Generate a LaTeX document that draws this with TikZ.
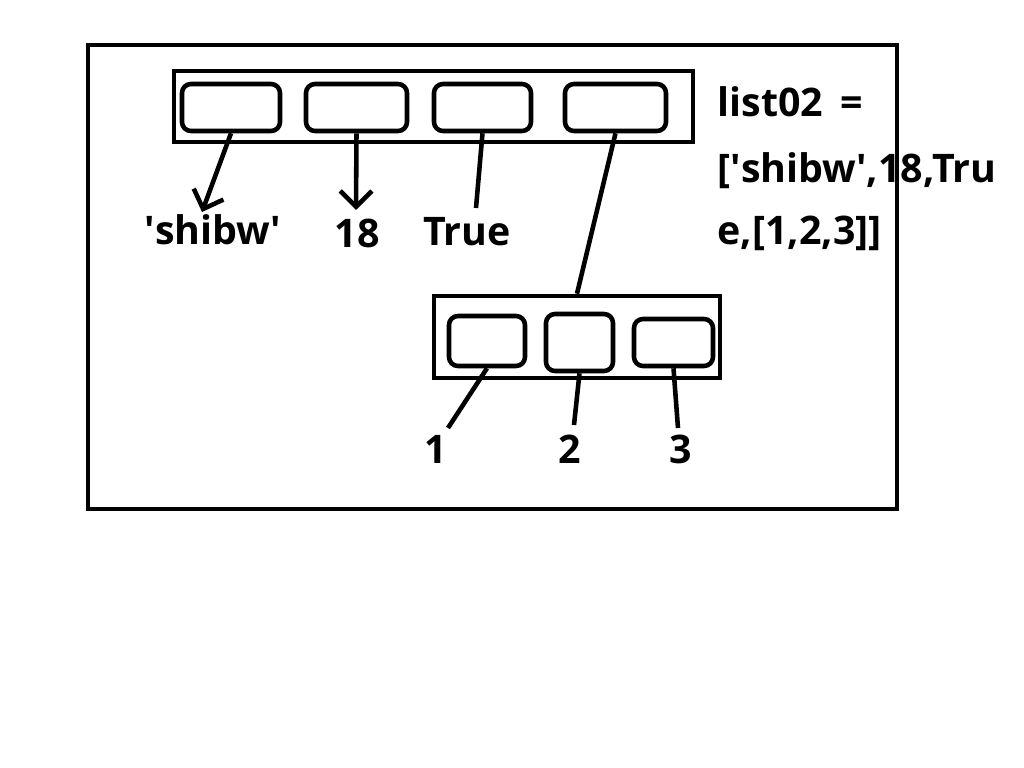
\documentclass[tikz,border=0pt]{standalone}
\usepackage{fontspec}
\setmainfont{Open Sans}
\usetikzlibrary{arrows.meta}
\begin{document}
\begin{tikzpicture}[
    frame/.style={draw, line width=1.3pt, inner sep=0pt},
    cell/.style={draw, rounded corners=0.09cm, line width=1.3pt, inner sep=0pt},
    lbl/.style={font=\fontsize{11.2}{14}\selectfont\bfseries, inner sep=0pt},
    link/.style={line width=1.3pt},
    pointer/.style={link, -{Straight Barb[length=4.5pt,width=9pt]}},
  ]
  \useasboundingbox (0,0) rectangle (10.24,7.68);
  \draw[line width=1.3pt] (0.88,7.23) rectangle (8.97,2.59);
  % outer list
  \node[frame, minimum width=5.19cm, minimum height=0.71cm] (list) at (4.335,6.615) {};
  \node[cell, minimum width=0.98cm, minimum height=0.47cm] (c1) at (2.31,6.605) {};
  \node[cell, minimum width=1.01cm, minimum height=0.47cm] (c2) at (3.565,6.605) {};
  \node[cell, minimum width=0.97cm, minimum height=0.47cm] (c3) at (4.825,6.605) {};
  \node[cell, minimum width=1.01cm, minimum height=0.47cm] (c4) at (6.155,6.605) {};
  % inner list
  \node[frame, minimum width=2.86cm, minimum height=0.82cm] (inner) at (5.77,4.31) {};
  \node[cell, minimum width=0.76cm, minimum height=0.50cm] (b1) at (4.87,4.27) {};
  \node[cell, minimum width=0.67cm, minimum height=0.57cm] (b2) at (5.795,4.255) {};
  \node[cell, minimum width=0.79cm, minimum height=0.47cm] (b3) at (6.735,4.255) {};
  % values
  \node[lbl] (shibw) at (2.13,5.38) {\textquotesingle shibw\textquotesingle};
  \node[lbl] (n18) at (3.57,5.35) {18};
  \node[lbl] (true) at (4.67,5.36) {True};
  \node[lbl] (one) at (4.36,3.19) {1};
  \node[lbl] (two) at (5.70,3.19) {2};
  \node[lbl] (three) at (6.81,3.19) {3};
  \coordinate (t1) at (2.02,5.56);
  \coordinate (t2) at (3.56,5.58);
  \coordinate (t3) at (4.76,5.60);
  \coordinate (e1) at (4.48,3.40);
  \coordinate (e2) at (5.74,3.43);
  \coordinate (e3) at (6.78,3.40);
  % code
  \node[lbl, anchor=base west] (code1) at (7.17,6.51) {list02 \,=};
  \node[lbl, anchor=base west] (code2) at (7.17,5.85) {[\textquotesingle shibw\textquotesingle,18,Tru};
  \node[lbl, anchor=base west] (code3) at (7.17,5.23) {e,[1,2,3]]};
  \begin{scope}[link]
    \draw[pointer] (c1.south) to (t1);
    \draw[pointer] (c2.south) to (t2);
    \draw (c3.south) to (t3);
    \draw (c4.south) to (inner.north);
    \draw (b1.south) to (e1);
    \draw (b2.south) to (e2);
    \draw (b3.south) to (e3);
  \end{scope}
\end{tikzpicture}
\end{document}
